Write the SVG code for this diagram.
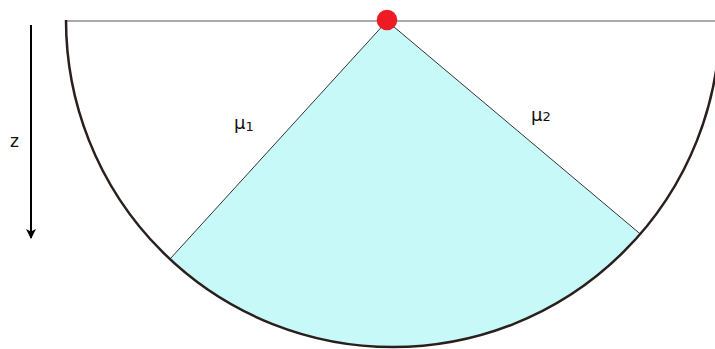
<svg xmlns="http://www.w3.org/2000/svg" width="715" height="349" viewBox="0 0 715 349">
<style>
.lbl{font-family:"DejaVu Sans","Liberation Sans",sans-serif;fill:#111}
.mu{font-size:18px}
.sub{font-size:13px}
</style>
<defs>
<marker id="ah" viewBox="0 0 10 10" refX="9" refY="5" markerWidth="5" markerHeight="6" orient="auto" markerUnits="strokeWidth">
<path d="M0,0 L10,5 L0,10 L2.5,5 Z" fill="#000"/>
</marker>
</defs>
<rect width="715" height="349" fill="#fff"/>
<g id="cone">
<path d="M387,21 L170,259 A327,327 0 0 0 640.7,234.3 Z" fill="#c8f9f9"/>
<line x1="387" y1="21" x2="170" y2="259" stroke="#333" stroke-width="1"/>
<line x1="387" y1="21" x2="640.7" y2="234.3" stroke="#333" stroke-width="1"/>
</g>
<g id="surface">
<line x1="66" y1="21" x2="715" y2="21" stroke="#555" stroke-width="1.2"/>
</g>
<g id="hemisphere">
<path d="M66,20 A327,327 0 0 0 720,20" fill="none" stroke="#2a1f1d" stroke-width="2.5"/>
</g>
<g id="source">
<circle cx="387" cy="20" r="10.3" fill="#ed1c24"/>
</g>
<g id="connectors">
<line x1="31" y1="25" x2="31" y2="238" stroke="#000" stroke-width="2" marker-end="url(#ah)"/>
</g>
<g id="labels">
<text class="lbl" x="10" y="147" style="font-size:17px">z</text>
<text class="lbl mu" x="234" y="129">μ<tspan class="sub" dy="2">1</tspan></text>
<text class="lbl mu" x="531" y="121">μ<tspan class="sub" dy="0">2</tspan></text>
</g>
</svg>
